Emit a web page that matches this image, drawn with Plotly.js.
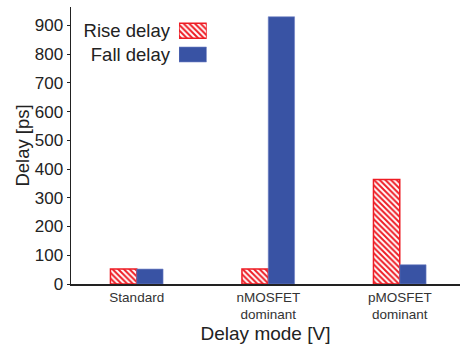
<!DOCTYPE html>
<html>
<head>
<meta charset="utf-8">
<script src="https://cdn.plot.ly/plotly-3.0.1.min.js"></script>
<style>html,body{margin:0;padding:0;background:#fff;}#chart{width:460px;height:344px;}</style>
</head>
<body>
<div id="chart"></div>
<script>
const categories = ['Standard', 'nMOSFET<br>dominant', 'pMOSFET<br>dominant'];
const seriesNames = ['Rise delay', 'Fall delay'];
const riseDelay = [52, 52, 364];
const fallDelay = [52, 930, 67];
const yTickVals = [0, 100, 200, 300, 400, 500, 600, 700, 800, 900];

const FONT = '"Liberation Sans", Arial, Helvetica, sans-serif';
const RED = '#ee1c24';
const BLUE = '#3953a4';

const riseStyle = {
  color: '#ffffff',
  line: {color: RED, width: 1.5},
  pattern: {shape: '\\', fgcolor: RED, bgcolor: '#ffffff', size: 4, solidity: 0.5}
};
const fallStyle = {color: BLUE, line: {color: '#6f80c4', width: 0.6}};

const traces = [
  {type: 'bar', name: seriesNames[0], x: categories, y: riseDelay, marker: riseStyle, showlegend: false},
  {type: 'bar', name: seriesNames[1], x: categories, y: fallDelay, marker: fallStyle, showlegend: false},
  // legend built on a small overlay axis: labels on the left, swatches on the right
  {type: 'bar', orientation: 'h', name: seriesNames[0], y: [seriesNames[0]], x: [1], xaxis: 'x3', yaxis: 'y3',
   marker: riseStyle, width: 0.63, showlegend: false, hoverinfo: 'skip'},
  {type: 'bar', orientation: 'h', name: seriesNames[1], y: [seriesNames[1]], x: [1], xaxis: 'x3', yaxis: 'y3',
   marker: fallStyle, width: 0.63, showlegend: false, hoverinfo: 'skip'}
];

const layout = {
  width: 460, height: 344,
  margin: {l: 71, r: 0, t: 7, b: 60},
  paper_bgcolor: '#ffffff', plot_bgcolor: '#ffffff',
  font: {family: FONT, color: '#222222'},
  barmode: 'group', bargap: 0.6, bargroupgap: 0,
  showlegend: false,
  xaxis: {
    type: 'category', range: [-0.5, 2.458],
    showline: true, linecolor: '#222', linewidth: 1.5,
    ticks: '', showgrid: false, zeroline: false,
    tickfont: {size: 13.5, color: '#333'},
    title: {text: 'Delay mode [V]', font: {size: 19, color: '#222'}, standoff: 6}
  },
  xaxis2: {
    overlaying: 'x', anchor: 'y', side: 'top', type: 'linear',
    range: [-0.5, 2.458], tickvals: [0, 0.5, 1, 1.5, 2],
    ticks: 'inside', ticklen: 4, tickcolor: '#222', tickwidth: 1.2,
    showticklabels: false, showline: true, linecolor: '#222', linewidth: 1.5,
    showgrid: false, zeroline: false
  },
  yaxis: {
    range: [0, 964], tickvals: yTickVals,
    ticks: 'outside', ticklen: 3, tickcolor: '#222',
    showline: true, linecolor: '#222', linewidth: 1.5,
    showgrid: false, zeroline: false,
    tickfont: {size: 17, color: '#222'},
    title: {text: 'Delay [ps]', font: {size: 18.5, color: '#222'}, standoff: 0}
  },
  xaxis3: {domain: [0.2776, 0.3488], anchor: 'y3', range: [0, 1], visible: false, fixedrange: true},
  yaxis3: {
    domain: [0.7857, 0.9569], anchor: 'x3', type: 'category', autorange: 'reversed',
    showline: false, ticks: '', showgrid: false, zeroline: false,
    tickfont: {size: 18.5, color: '#222'}, ticklabelstandoff: 8, fixedrange: true
  }
};

Plotly.newPlot('chart', traces, layout, {displayModeBar: false, staticPlot: true});
</script>
</body>
</html>
